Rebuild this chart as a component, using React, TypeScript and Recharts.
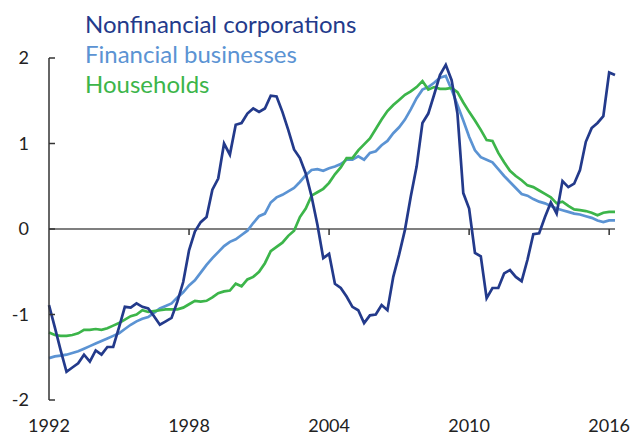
import React from "react";
import { LineChart, Line, XAxis, YAxis, ReferenceLine } from "recharts";

// quarterly observations, 1992 Q1 .. 2016 Q2
const quarters = [
  1992, 1992.25, 1992.5, 1992.75, 1993, 1993.25, 1993.5, 1993.75,
  1994, 1994.25, 1994.5, 1994.75, 1995, 1995.25, 1995.5, 1995.75,
  1996, 1996.25, 1996.5, 1996.75, 1997, 1997.25, 1997.5, 1997.75,
  1998, 1998.25, 1998.5, 1998.75, 1999, 1999.25, 1999.5, 1999.75,
  2000, 2000.25, 2000.5, 2000.75, 2001, 2001.25, 2001.5, 2001.75,
  2002, 2002.25, 2002.5, 2002.75, 2003, 2003.25, 2003.5, 2003.75,
  2004, 2004.25, 2004.5, 2004.75, 2005, 2005.25, 2005.5, 2005.75,
  2006, 2006.25, 2006.5, 2006.75, 2007, 2007.25, 2007.5, 2007.75,
  2008, 2008.25, 2008.5, 2008.75, 2009, 2009.25, 2009.5, 2009.75,
  2010, 2010.25, 2010.5, 2010.75, 2011, 2011.25, 2011.5, 2011.75,
  2012, 2012.25, 2012.5, 2012.75, 2013, 2013.25, 2013.5, 2013.75,
  2014, 2014.25, 2014.5, 2014.75, 2015, 2015.25, 2015.5, 2015.75,
  2016, 2016.25,
];

const nonfinancial = [
  -0.89, -1.15, -1.42, -1.67, -1.62, -1.57, -1.47, -1.55,
  -1.42, -1.47, -1.38, -1.38, -1.15, -0.91, -0.92, -0.87,
  -0.91, -0.93, -1.02, -1.12, -1.08, -1.04, -0.85, -0.62,
  -0.25, -0.03, 0.08, 0.14, 0.46, 0.59, 1.0, 0.87,
  1.22, 1.24, 1.35, 1.41, 1.37, 1.41, 1.56, 1.55,
  1.37, 1.16, 0.93, 0.83, 0.65, 0.38, 0.05, -0.34,
  -0.29, -0.64, -0.69, -0.79, -0.91, -0.95, -1.1, -1.01,
  -1.0, -0.89, -0.95, -0.56, -0.3, -0.01, 0.38, 0.73,
  1.24, 1.35, 1.57, 1.8, 1.92, 1.74, 1.35, 0.42,
  0.24, -0.28, -0.32, -0.81, -0.69, -0.69, -0.52, -0.48,
  -0.56, -0.61, -0.36, -0.06, -0.05, 0.14, 0.31, 0.18,
  0.56, 0.49, 0.53, 0.69, 1.02, 1.18, 1.24, 1.32,
  1.83, 1.8,
];

const financial = [
  -1.51, -1.49, -1.48, -1.47, -1.45, -1.43, -1.4, -1.37,
  -1.34, -1.31, -1.28, -1.25, -1.22, -1.17, -1.12, -1.08,
  -1.05, -1.03, -0.98, -0.93, -0.9, -0.87, -0.8, -0.74,
  -0.66, -0.6, -0.51, -0.42, -0.34, -0.27, -0.2, -0.15,
  -0.12, -0.07, -0.02, 0.07, 0.15, 0.18, 0.31, 0.37,
  0.4, 0.44, 0.48, 0.55, 0.63, 0.69, 0.7, 0.68,
  0.71, 0.73, 0.76, 0.81, 0.81, 0.85, 0.81, 0.89,
  0.91, 0.98, 1.03, 1.12, 1.19, 1.28, 1.4, 1.53,
  1.63, 1.66, 1.71, 1.77, 1.79, 1.63, 1.45, 1.27,
  1.08, 0.92, 0.84, 0.81, 0.78, 0.7, 0.62, 0.55,
  0.48, 0.41, 0.39, 0.35, 0.32, 0.3, 0.27, 0.24,
  0.22, 0.2, 0.18, 0.17, 0.15, 0.13, 0.1, 0.08,
  0.1, 0.1,
];

const households = [
  -1.21, -1.24, -1.25, -1.25, -1.24, -1.22, -1.18, -1.18,
  -1.17, -1.18, -1.16, -1.13, -1.1, -1.06, -1.02, -1.0,
  -0.95, -0.97, -0.96, -0.95, -0.94, -0.94, -0.94, -0.92,
  -0.88, -0.84, -0.85, -0.84, -0.8, -0.75, -0.73, -0.72,
  -0.64, -0.67, -0.59, -0.56, -0.5, -0.4, -0.26, -0.21,
  -0.16, -0.08, -0.02, 0.14, 0.24, 0.39, 0.43, 0.47,
  0.54, 0.64, 0.72, 0.83, 0.83, 0.92, 0.99, 1.06,
  1.17, 1.28, 1.38, 1.45, 1.51, 1.57, 1.61, 1.66,
  1.73, 1.63, 1.66, 1.64, 1.64, 1.65, 1.6, 1.48,
  1.37, 1.27, 1.16, 1.04, 1.03, 0.89, 0.78, 0.68,
  0.62, 0.57, 0.51, 0.49, 0.45, 0.41, 0.37, 0.3,
  0.32, 0.27, 0.23, 0.22, 0.21, 0.19, 0.16, 0.19,
  0.2, 0.2,
];

const xTicks = [1992, 1998, 2004, 2010, 2016];
const yTicks = [-2, -1, 0, 1, 2];

const series = [
  { key: "financial", name: "Financial businesses", color: "#5b93d3" },
  { key: "households", name: "Households", color: "#3cb54a" },
  { key: "nonfinancial", name: "Nonfinancial corporations", color: "#233a8b" },
];
const legendOrder = ["nonfinancial", "financial", "households"];

const data = quarters.map((q, i) => ({
  q,
  nonfinancial: nonfinancial[i],
  financial: financial[i],
  households: households[i],
}));

const FONT = "Lato, 'Open Sans', sans-serif";
const AXIS = "#333333";

const YTick = (props: any) => {
  const { x, y, payload } = props;
  return (
    <g>
      <text x={x} y={y} dy="0.36em" textAnchor="end" fontSize={18} fill="#222" fontFamily={FONT}>
        {payload.value}
      </text>
      {/* inward tick on the axis */}
      <line x1={x + 20} x2={x + 26} y1={y} y2={y} stroke={AXIS} strokeWidth={1.5} />
    </g>
  );
};

export default function App() {
  return (
    <div style={{ position: "absolute", left: 0, top: 0, width: 634, height: 435, background: "#fff" }}>
      <LineChart width={634} height={435} data={data} margin={{ top: 58, right: 19, bottom: 0, left: 0 }}>
        <XAxis
          dataKey="q"
          type="number"
          domain={[1992, 2016.25]}
          ticks={xTicks}
          axisLine={false}
          tickLine={false}
          tickSize={0}
          tickMargin={19}
          height={35}
          interval={0}
          tick={{ fill: "#222", fontSize: 18, fontFamily: FONT }}
        />
        <YAxis
          domain={[-2, 2]}
          ticks={yTicks}
          width={49}
          tickSize={0}
          tickMargin={20}
          tickLine={false}
          axisLine={{ stroke: AXIS, strokeWidth: 1.5 }}
          tick={<YTick />}
          interval={0}
        />
        <ReferenceLine y={0} stroke="#555" strokeWidth={1.5} ifOverflow="extendDomain" />
        {xTicks.slice(1).map((t) => (
          <ReferenceLine
            key={t}
            segment={[{ x: t, y: 0 }, { x: t, y: -0.07 }]}
            stroke={AXIS}
            strokeWidth={1.5}
          />
        ))}
        {series.map((s) => (
          <Line
            key={s.key}
            dataKey={s.key}
            name={s.name}
            type="linear"
            stroke={s.color}
            strokeWidth={2.7}
            dot={false}
            isAnimationActive={false}
          />
        ))}
      </LineChart>
      <div style={{ position: "absolute", left: 85, top: 9, fontFamily: FONT, fontSize: 24, lineHeight: "30px" }}>
        {legendOrder.map((k) => {
          const s = series.find((e) => e.key === k)!;
          return (
            <div key={k} style={{ color: s.color, whiteSpace: "nowrap" }}>
              {s.name}
            </div>
          );
        })}
      </div>
    </div>
  );
}
